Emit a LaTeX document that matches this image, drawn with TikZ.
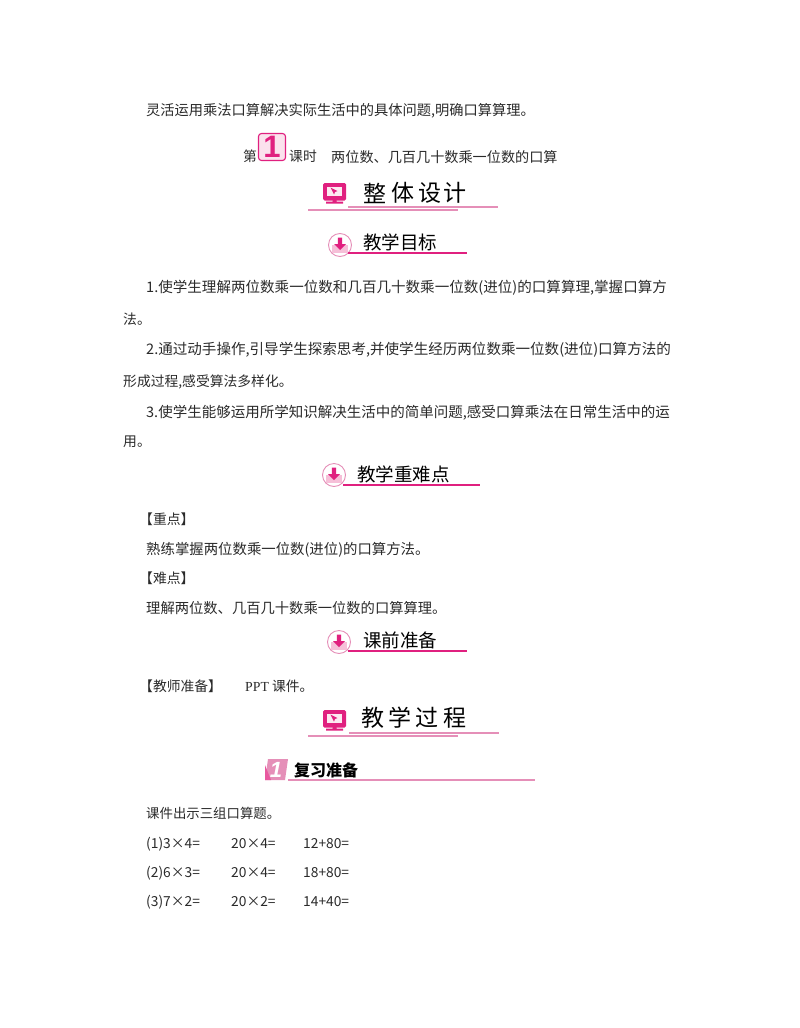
\documentclass[tikz,border=0pt]{standalone}
\usepackage{fontspec}
\setmainfont{Noto Sans CJK SC}
\newfontfamily\latf{Liberation Serif}
\newfontfamily\headf{Liberation Sans}
\definecolor{mag}{HTML}{E0207F}
\definecolor{pinkl}{HTML}{E58FB8}
\definecolor{pinkp}{HTML}{F6BFD8}
\definecolor{ink}{HTML}{2A2A2A}
\newcommand{\fs}[1]{\fontsize{#1}{#1}\selectfont}
\tikzset{
 x=1pt,y=-1pt,
 txt/.style={anchor=west,inner sep=0pt,yshift=-0.7pt,text=ink,font=\fs{13.8}},
 big/.style={inner sep=0pt,text=black,font=\fs{23}},
 sec/.style={anchor=west,inner sep=0pt,text=black,font=\fs{18.5}},
 sub/.style={anchor=west,inner sep=0pt,text=black,font=\fs{16}\bfseries},
 ruleA/.style={color=mag,line width=1.3pt},
 ruleB/.style={color=pinkl,line width=1.2pt},
}
\newcommand{\monicon}[2]{%
 \begin{scope}[shift={(#1,#2)}]
  \fill[mag,rounded corners=1.5pt] (-11.5,-10) rectangle (11.5,7.5);
  \fill[pinkp!35] (-7.5,-6.5) rectangle (7.5,3);
  \fill[mag] (-4,-5.5) -- (3,-2) -- (0.5,-1) -- (-0.5,1.5) -- cycle;
  \fill[mag] (-2,7) rectangle (2,9) (-8.5,8.5) rectangle (8.5,10.5);
 \end{scope}}
\newcommand{\arricon}[2]{%
 \begin{scope}[shift={(#1,#2)}]
  \fill[white] (0,0) circle (11.5);
  \draw[color=pinkl,line width=.9pt] (0,0) circle (11.5);
  \fill[pinkp] (-8,8) -- (-8,0) -- (8,0) -- (8,8) -- cycle;
  \fill[mag] (-2.2,-7.5) rectangle (2.2,-1) (-6,-1) -- (6,-1) -- (0,5) -- cycle;
 \end{scope}}
\begin{document}
\begin{tikzpicture}
\useasboundingbox (0,0) rectangle (800,1028);
\node[txt,font=\fs{14.25}] (l1) at (146,110) {灵活运用乘法口算解决实际生活中的具体问题,明确口算算理。};
\node[txt] (h1) at (243,156) {第};
\node[draw=mag,line width=1.1pt,fill=pinkp!45,rounded corners=3pt,minimum width=27pt,minimum height=27pt,inner sep=0pt,text=mag,font=\headf\bfseries\fs{31}] (one) at (272,147) {1};
\node[txt] (h2) at (289,156) {课时};
\node[txt,font=\fs{14.15}] (h3) at (331,156) {两位数、几百几十数乘一位数的口算};
% overall design
\monicon{334.5}{193}
\node[big] (a1) at (375,193) {整};
\node[big] (a2) at (403,193) {体};
\node[big] (a3) at (430,193) {设};
\node[big] (a4) at (455,193) {计};
\coordinate (a5) at (348,207); \coordinate (a6) at (498,207);
\coordinate (a7) at (308,210); \coordinate (a8) at (458,210);
\draw[ruleB] (a5) -- (a6);
\draw[ruleB] (a7) -- (a8);
% objectives
\arricon{340}{245}
\node[sec] (b1) at (363,242) {教学目标};
\coordinate (b2) at (348,253); \coordinate (b3) at (467,253);
\draw[ruleA] (b2) -- (b3);
\node[txt,font=\fs{14.55}] (p1) at (146,287) {1.使学生理解两位数乘一位数和几百几十数乘一位数(进位)的口算算理,掌握口算方};
\node[txt] (p1b) at (123,319) {法。};
\node[txt,font=\fs{14.55}] (p2) at (146,349) {2.通过动手操作,引导学生探索思考,并使学生经历两位数乘一位数(进位)口算方法的};
\node[txt] (p2b) at (123,381) {形成过程,感受算法多样化。};
\node[txt,font=\fs{14.5}] (p3) at (146,412) {3.使学生能够运用所学知识解决生活中的简单问题,感受口算乘法在日常生活中的运};
\node[txt] (p3b) at (123,441) {用。};
% key points
\arricon{334}{475}
\node[sec] (c1) at (357,474) {教学重难点};
\coordinate (c2) at (343,485); \coordinate (c3) at (480,485);
\draw[ruleA] (c2) -- (c3);
\node[txt] (d1) at (139,519) {【重点】};
\node[txt,font=\fs{14.4}] (d2) at (146,549) {熟练掌握两位数乘一位数(进位)的口算方法。};
\node[txt] (d3) at (139,578) {【难点】};
\node[txt,font=\fs{14.3}] (d4) at (146,607) {理解两位数、几百几十数乘一位数的口算算理。};
% preparation
\arricon{339}{642}
\node[sec] (e1) at (363,640) {课前准备};
\coordinate (e2) at (348,651); \coordinate (e3) at (467,651);
\draw[ruleA] (e2) -- (e3);
\node[txt] (f1) at (139,686) {【教师准备】};
\node[txt] (f2) at (245,686) {{\latf PPT} 课件。};
% process
\monicon{334.5}{720}
\node[big] (g1) at (373,718) {教};
\node[big] (g2) at (400,718) {学};
\node[big] (g3) at (427,718) {过};
\node[big] (g4) at (455,718) {程};
\coordinate (g5) at (349,733); \coordinate (g6) at (499,733);
\coordinate (g7) at (308,736); \coordinate (g8) at (458,736);
\draw[ruleB] (g5) -- (g6);
\draw[ruleB] (g7) -- (g8);
% review
\fill[pinkl] (268,759) -- (288,759) -- (285,780) -- (265,780) -- cycle;
\fill[mag!75] (271,780) -- (265,780) -- (265,765) -- cycle;
\node[inner sep=0pt,text=white,font=\headf\bfseries\itshape\fs{22}] (h0) at (276,770) {1};
\node[sub] (h5) at (294,770) {复习准备};
\coordinate (h6) at (288,780); \coordinate (h7) at (535,780);
\draw[ruleB] (h6) -- (h7);
\node[txt,font=\fs{13.4}] (i0) at (146,813) {课件出示三组口算题。};
\node[txt] (i1) at (146,843) {(1)3×4=};
\node[txt] (i2) at (231,843) {20×4=};
\node[txt] (i3) at (303,843) {12+80=};
\node[txt] (j1) at (146,872) {(2)6×3=};
\node[txt] (j2) at (231,872) {20×4=};
\node[txt] (j3) at (303,872) {18+80=};
\node[txt] (k1) at (146,901) {(3)7×2=};
\node[txt] (k2) at (231,901) {20×2=};
\node[txt] (k3) at (303,901) {14+40=};
\end{tikzpicture}
\end{document}
